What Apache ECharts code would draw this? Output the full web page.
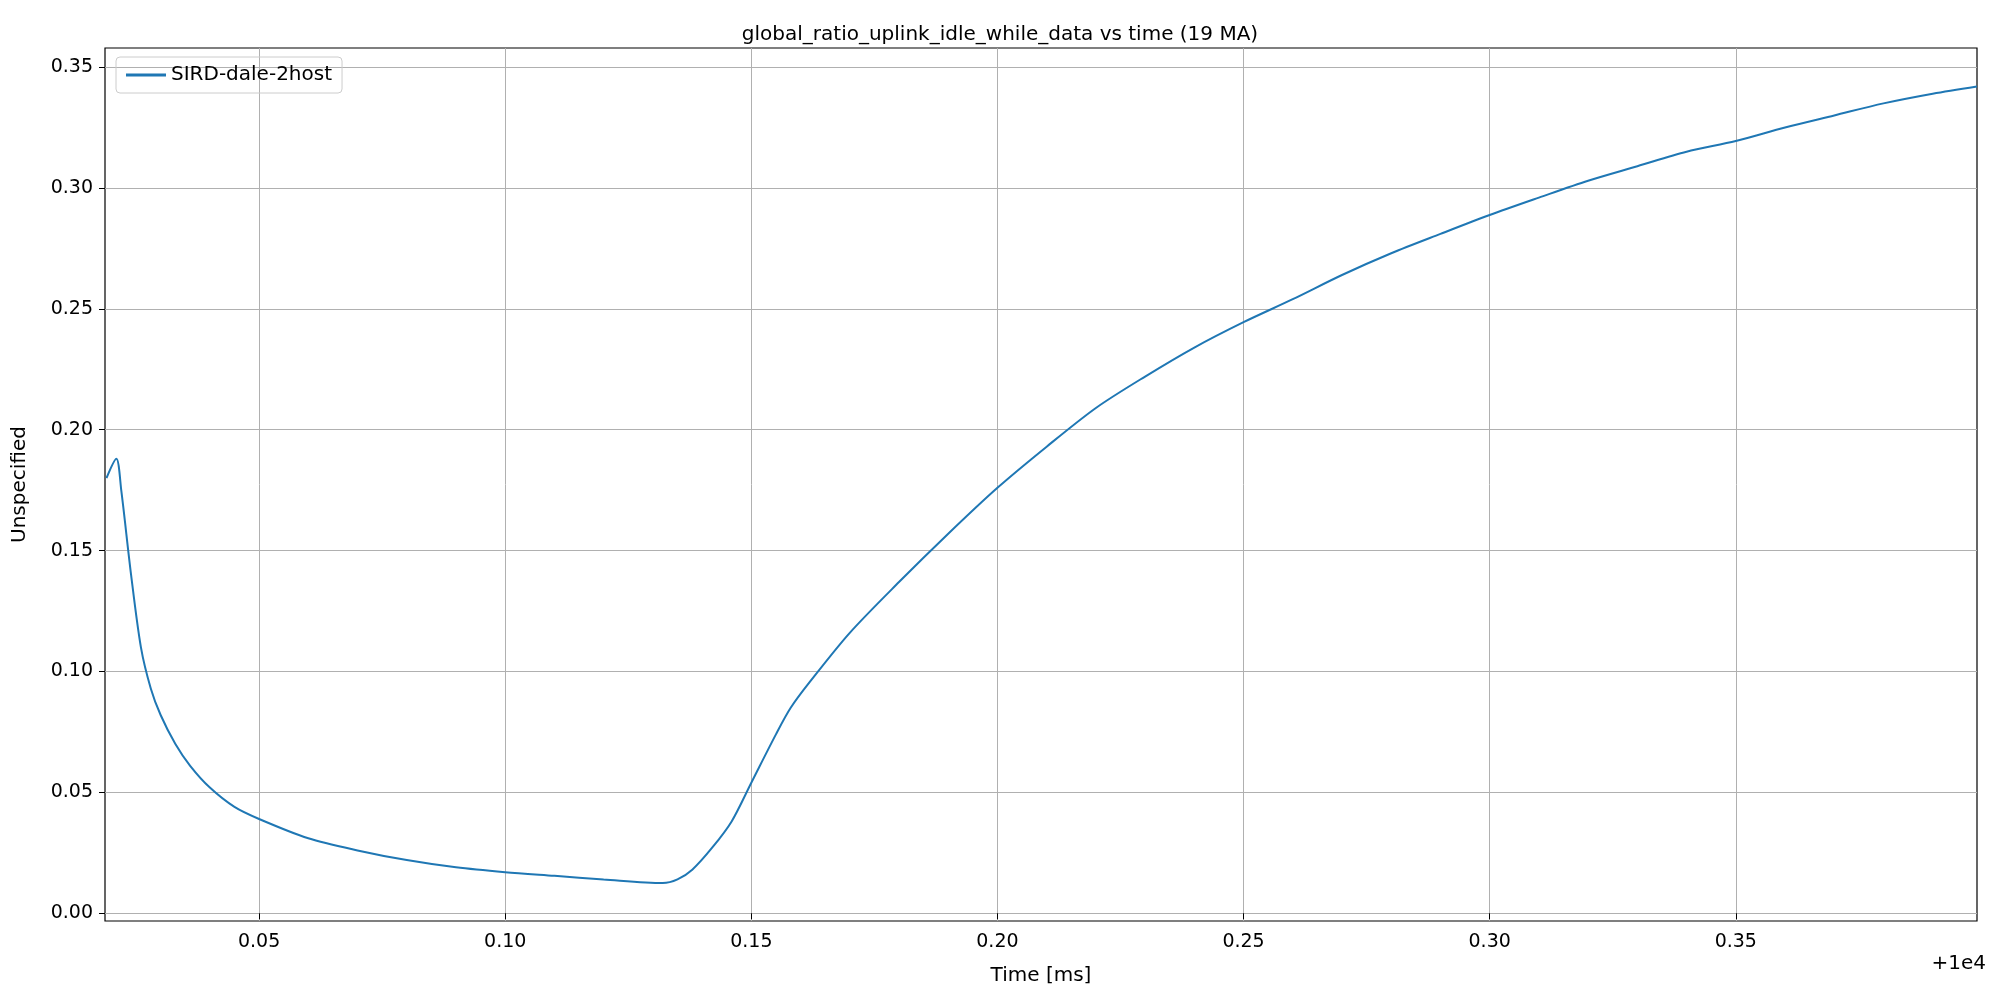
<!DOCTYPE html>
<html>
<head>
<meta charset="utf-8">
<script src="https://cdn.jsdelivr.net/npm/echarts@6/dist/echarts.min.js"></script>
<style>html,body{margin:0;padding:0;background:#fff}#chart{width:2000px;height:1000px}</style>
</head>
<body>
<div id="chart"></div>
<script>
// time offsets (ms, relative to 1e4)
const timeVals = [0.019, 0.021, 0.022, 0.024, 0.026, 0.028, 0.030, 0.033, 0.036, 0.040, 0.045, 0.050,
  0.060, 0.070, 0.080, 0.090, 0.100, 0.110, 0.120, 0.132, 0.135, 0.138, 0.142, 0.146, 0.150, 0.155,
  0.158, 0.162, 0.170, 0.180, 0.190, 0.200, 0.210, 0.220, 0.230, 0.240, 0.250, 0.260, 0.270, 0.280,
  0.290, 0.300, 0.310, 0.320, 0.330, 0.340, 0.350, 0.360, 0.370, 0.380, 0.390, 0.399];
const ratioVals = [0.180, 0.188, 0.175, 0.140, 0.110, 0.093, 0.082, 0.070, 0.061, 0.052, 0.044, 0.039,
  0.031, 0.026, 0.022, 0.019, 0.017, 0.0155, 0.014, 0.0125, 0.014, 0.018, 0.027, 0.038, 0.054, 0.074,
  0.085, 0.096, 0.116, 0.137, 0.157, 0.176, 0.193, 0.209, 0.222, 0.234, 0.2445, 0.254, 0.264, 0.273,
  0.281, 0.2888, 0.296, 0.303, 0.309, 0.315, 0.3194, 0.325, 0.330, 0.335, 0.339, 0.342];
const xTicks = [0.05, 0.10, 0.15, 0.20, 0.25, 0.30, 0.35];
const yTicks = [0, 0.05, 0.10, 0.15, 0.20, 0.25, 0.30, 0.35];

const chart = echarts.init(document.getElementById('chart'));
const font = 'DejaVu Sans';
chart.setOption({
  animation: false,
  textStyle: { fontFamily: font },
  title: {
    text: 'global_ratio_uplink_idle_while_data vs time (19 MA)',
    left: 'center', top: 20,
    textStyle: { fontFamily: font, fontSize: 20, fontWeight: 'normal', color: '#000' }
  },
  legend: {
    left: 116, top: 57, orient: 'vertical',
    borderColor: '#ccc', borderWidth: 1, borderRadius: 4, padding: [8, 10],
    itemWidth: 40, itemHeight: 3, icon: 'rect',
    textStyle: { fontFamily: font, fontSize: 20, color: '#000' }
  },
  grid: { left: 105, right: 23, top: 48, bottom: 79, show: true, borderColor: '#000', borderWidth: 1.2, containLabel: false },
  xAxis: {
    type: 'value', min: 0.0187, max: 0.399,
    name: 'Time [ms]', nameLocation: 'middle', nameGap: 45,
    nameTextStyle: { fontFamily: font, fontSize: 20, color: '#000' },
    axisLine: { show: false },
    axisTick: { show: true, length: 6, lineStyle: { color: '#000' }, customValues: xTicks },
    axisLabel: { fontSize: 19, color: '#000', margin: 12, customValues: xTicks,
      formatter: v => v.toFixed(2) },
    splitLine: { show: true, lineStyle: { color: '#b0b0b0', width: 1 } }
  },
  yAxis: {
    type: 'value', min: -0.0032, max: 0.3579,
    name: 'Unspecified', nameLocation: 'middle', nameGap: 75,
    nameTextStyle: { fontFamily: font, fontSize: 20, color: '#000' },
    axisLine: { show: false },
    axisTick: { show: true, length: 6, lineStyle: { color: '#000' }, customValues: yTicks },
    axisLabel: { fontSize: 19, color: '#000', margin: 12, customValues: yTicks,
      formatter: v => v.toFixed(2) },
    splitLine: { show: true, lineStyle: { color: '#b0b0b0', width: 1 } }
  },
  graphic: [{
    type: 'text', right: 14, top: 954,
    style: { text: '+1e4', fontFamily: font, fontSize: 20, fill: '#000' }
  }],
  series: [{
    name: 'SIRD-dale-2host', type: 'line', showSymbol: false, smooth: 0.3,
    lineStyle: { color: '#1f77b4', width: 2 }, itemStyle: { color: '#1f77b4' },
    data: timeVals.map((t, i) => [t, ratioVals[i]])
  }]
});
</script>
</body>
</html>
